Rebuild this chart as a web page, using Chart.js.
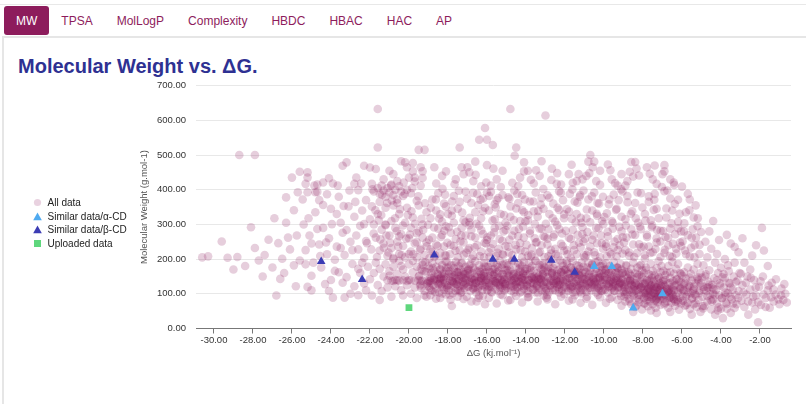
<!DOCTYPE html>
<html>
<head>
<meta charset="utf-8">
<title>Molecular Weight vs. ΔG.</title>
<script src="https://cdn.jsdelivr.net/npm/chart.js@4/dist/chart.umd.min.js"></script>
<style>
  html, body { margin: 0; padding: 0; background: #fff; }
  body { width: 806px; height: 404px; position: relative; overflow: hidden;
         font-family: "Liberation Sans", Arial, Helvetica, sans-serif; }
  .topline { position: absolute; left: 0; right: 0; top: 4px; height: 1px; background: #e8e8e8; }
  .tabs { position: absolute; left: 4px; top: 6px; display: flex; }
  .tab { height: 29px; line-height: 31.6px; padding: 0 12px; font-size: 12px; color: #8d1c5c; box-sizing: border-box; }
  .tab.active { background: #8d1c5c; color: #fff; border-radius: 3px; }
  .panel { position: absolute; left: 2px; top: 36px; width: 830px; height: 400px;
           border: 2px solid #e6e6e6; box-sizing: border-box; }
  h1 { position: absolute; left: 18px; top: 55.6px; margin: 0; font-size: 20px; line-height: 20px;
       font-weight: bold; color: #2e3192; white-space: nowrap; }
  #wrap { position: absolute; left: 0; top: 70.3px; width: 806px; height: 300px; }
  .legend { position: absolute; left: 33px; top: 196px; font-size: 10px; color: #222; }
  .legend .row { height: 13.6px; display: flex; align-items: center; white-space: nowrap; }
  .legend svg { width: 9px; height: 9px; margin-right: 5.5px; flex: none; }
</style>
</head>
<body>
<div class="topline"></div>
<div class="tabs">
  <div class="tab active">MW</div>
  <div class="tab">TPSA</div>
  <div class="tab">MolLogP</div>
  <div class="tab">Complexity</div>
  <div class="tab">HBDC</div>
  <div class="tab">HBAC</div>
  <div class="tab">HAC</div>
  <div class="tab">AP</div>
</div>
<div class="panel"></div>
<h1>Molecular Weight vs. ΔG.</h1>
<div id="wrap"><canvas id="chart"></canvas></div>
<div class="legend">
  <div class="row"><svg viewBox="0 0 9 9"><circle cx="4.5" cy="4.5" r="3.6" fill="rgb(233,210,224)"/></svg>All data</div>
  <div class="row"><svg viewBox="0 0 9 9"><polygon points="4.5,0.6 8.8,8.3 0.2,8.3" fill="#4faaf0"/></svg>Similar data/α-CD</div>
  <div class="row"><svg viewBox="0 0 9 9"><polygon points="4.5,0.6 8.8,8.3 0.2,8.3" fill="#3c3cb4"/></svg>Similar data/β-CD</div>
  <div class="row"><svg viewBox="0 0 9 9"><rect x="1" y="1" width="7" height="7" fill="#5fd77d"/></svg>Uploaded data</div>
</div>
<script>
// Axis ticks
const xTickValues = [-30, -28, -26, -24, -22, -20, -18, -16, -14, -12, -10, -8, -6, -4, -2];
const yTickValues = [0, 100, 200, 300, 400, 500, 600, 700];

// ΔG (kJ/mol) vs molecular weight (g/mol), grouped by ΔG range
const farLeftPts = [
  [-30.6,205],[-30.3,208],[-29.6,251],[-29.3,204],[-28.8,206],[-28.7,500],[-27.9,500],[-28.1,292],
  [-27.7,196],[-27.9,232],[-27.4,212],[-27.2,256],[-27.0,176],[-26.9,318],[-26.7,246],[-26.5,201],
  [-26.3,378],[-26.0,435],[-26.2,262],[-25.9,182],[-25.8,122],[-25.6,452],[-25.7,393],[-26.4,160],
  [-27.5,150],[-28.4,180],[-26.8,95],[-29.0,170]
];
const leftPts = [
  [-25.2,450],[-25.2,435],[-25.3,417],[-25.2,393],[-24.8,393],[-24.7,394],[-24.7,415],[-24.4,421],
  [-24.2,387],[-23.9,418],[-23.4,469],[-23.2,479],[-22.8,417],[-22.7,435],[-22.6,399],[-22.3,469],
  [-22.0,464],[-22.2,370],
  [-25.4,300],[-25.3,226],[-25.1,268],[-25.0,152],[-24.9,190],[-24.8,335],[-24.6,242],[-24.5,176],
  [-24.4,290],[-24.3,128],[-24.2,214],[-24.1,260],[-24.0,345],[-23.9,89],[-23.8,198],[-23.7,236],
  [-23.6,162],[-23.5,305],[-23.4,276],[-23.3,89],[-23.3,212],[-23.2,148],[-23.1,352],[-23.0,250],
  [-22.9,186],[-22.8,322],[-22.8,122],[-22.7,268],[-22.6,228],[-22.5,160],[-22.5,296],[-22.4,340],
  [-22.3,204],[-22.2,110],[-22.2,252],[-22.1,178],[-22.0,315],[-22.0,142],[-24.6,370],[-23.6,380],
  [-25.0,110],[-23.0,100],[-24.0,140],[-22.4,190],[-23.7,330],
  [-26.3,305],[-26.1,228],[-25.9,341],[-25.75,268],[-25.6,196],[-25.45,372],[-25.3,185],[-25.15,318],
  [-25.0,245],[-24.85,412],[-24.7,287],[-24.55,209],[-24.4,356],[-24.25,248],[-24.1,433],[-23.95,301],
  [-23.8,166],[-23.65,412],[-23.5,232],[-23.35,353],[-23.2,284],[-23.05,398],[-22.9,226],[-22.75,365],
  [-22.6,172],[-22.45,418],[-22.3,301],[-22.15,246],[-26.6,143],[-25.2,120],[-24.1,108],[-23.4,132],
  [-22.6,96],[-22.3,130]
];
const clusterPts = [
  [-21.9,417],[-21.8,395],[-21.6,405],[-21.5,388],[-21.4,412],[-21.3,398],[-21.2,380],[-21.1,405],
  [-21.0,392],[-20.9,415],[-20.8,385],[-20.7,400],[-20.6,372],[-20.5,410],[-20.4,395],[-20.3,382],
  [-20.6,425],[-21.3,430],[-20.1,400],[-19.9,390],
  [-21.6,522],[-21.6,633],[-20.4,482],[-20.2,479],[-19.8,477],[-20.1,465],[-19.8,453],[-19.4,465],
  [-19.3,453],[-19.5,515],[-19.2,515],[-21.0,455],[-20.8,445],[-21.7,460],[-20.0,435],[-19.7,435],
  [-19.3,434],[-19.7,424],
  [-21.9,352],[-21.8,300],[-21.7,262],[-21.6,330],[-21.5,225],[-21.4,285],[-21.3,245],[-21.2,348],
  [-21.1,210],[-21.0,268],[-20.9,310],[-20.9,232],[-20.8,355],[-20.7,290],[-20.6,250],[-20.5,215],
  [-20.5,330],[-20.4,272],[-20.3,238],[-20.2,305],[-20.2,205],[-20.1,348],[-20.0,260],[-19.9,222],
  [-19.9,290],[-19.8,320],[-19.7,245],[-19.6,205],[-19.6,275],[-19.5,355],[-19.4,230],[-19.3,300],
  [-19.3,262],[-19.2,212],[-19.1,335],[-19.1,248],[-21.5,365],[-20.6,362],[-19.6,368],[-21.2,300],
  [-20.0,215],[-19.5,280],
  [-21.1,139],[-20.9,138],[-20.7,140],[-20.5,138],[-20.3,139],[-20.1,137],[-19.9,139],[-19.7,138],
  [-19.5,140],[-19.3,138],[-19.1,139],[-18.9,137],[-20.8,137],[-20.0,140],[-19.4,137],[-20.6,139],
  [-21.9,95],[-21.8,160],[-21.7,190],[-21.6,125],[-21.5,172],[-21.4,108],[-21.3,150],[-21.2,185],
  [-21.1,118],[-21.0,165],[-20.9,92],[-20.8,178],[-20.7,122],[-20.6,158],[-20.5,195],[-20.4,110],
  [-20.3,170],[-20.2,150],[-20.1,125],[-20.0,185],[-19.9,100],[-19.8,162],[-19.7,118],[-19.6,178],
  [-19.5,150],[-19.4,128],[-19.3,192],[-19.2,108],[-19.2,165],[-19.1,92],[-19.0,180],[-19.0,122],
  [-21.5,82],[-20.3,95],[-19.6,88],[-20.8,200],[-21.0,152],[-19.8,195],[-20.4,180],[-19.4,172]
];
const core19to17 = [
  [-18.9,96],[-18.4,88],[-18.1,98],
  [-18.95,118],[-18.9,132],[-18.85,145],[-18.8,108],[-18.75,126],[-18.7,150],[-18.65,138],[-18.6,115],
  [-18.55,142],[-18.5,128],[-18.45,104],[-18.4,136],[-18.35,148],[-18.3,120],[-18.25,140],[-18.2,112],
  [-18.15,132],[-18.1,146],[-18.05,124],
  [-18.95,172],[-18.85,160],[-18.8,188],[-18.7,166],[-18.6,178],[-18.5,155],[-18.45,195],[-18.4,170],
  [-18.3,182],[-18.2,158],[-18.1,176],[-18.05,192],
  [-18.9,228],[-18.7,206],[-18.6,242],[-18.4,218],[-18.2,236],[-18.1,210],
  [-18.8,262],[-18.5,288],[-18.3,270],[-18.1,295],
  [-18.9,318],[-18.6,340],[-18.3,308],[-18.0,330],
  [-18.8,372],[-18.5,390],[-18.2,360],
  [-18.7,465],[-18.1,453],[-18.6,418],[-18.3,440],
  [-17.8,65],[-17.5,92],[-17.2,85],
  [-17.95,110],[-17.9,138],[-17.85,125],[-17.8,148],[-17.75,102],[-17.7,132],[-17.65,118],[-17.6,144],
  [-17.55,128],[-17.5,112],[-17.45,140],[-17.4,122],[-17.35,150],[-17.3,106],[-17.25,134],[-17.2,146],
  [-17.15,116],[-17.1,130],[-17.05,142],[-17.5,136],
  [-17.95,165],[-17.85,182],[-17.8,158],[-17.7,174],[-17.6,192],[-17.5,162],[-17.45,180],[-17.35,170],
  [-17.3,190],[-17.2,156],[-17.1,178],[-17.05,166],
  [-17.9,214],[-17.7,238],[-17.5,205],[-17.4,226],[-17.2,248],[-17.05,218],
  [-17.85,276],[-17.6,258],[-17.3,290],[-17.1,268],
  [-17.8,325],[-17.5,345],[-17.2,312],
  [-17.7,382],[-17.4,365],[-17.1,395],
  [-17.4,522],[-17.3,465],[-17.0,465],[-17.6,430],[-17.2,445]
];
const core17to15 = [
  [-16.8,78],[-16.4,95],[-16.1,70],
  [-16.95,120],[-16.9,135],[-16.85,108],[-16.8,146],[-16.75,126],[-16.7,114],[-16.65,140],[-16.6,130],
  [-16.55,104],[-16.5,148],[-16.45,118],[-16.4,136],[-16.35,124],[-16.3,144],[-16.25,110],[-16.2,132],
  [-16.15,150],[-16.1,120],[-16.05,140],[-16.6,118],
  [-16.95,168],[-16.85,185],[-16.75,160],[-16.7,176],[-16.6,194],[-16.5,164],[-16.4,182],[-16.3,156],
  [-16.25,172],[-16.15,188],[-16.1,162],[-16.05,178],
  [-16.9,232],[-16.7,210],[-16.5,240],[-16.3,222],[-16.15,205],[-16.05,245],
  [-16.8,284],[-16.6,262],[-16.4,296],[-16.2,272],[-16.0,255],
  [-16.9,306],[-16.6,335],[-16.3,318],[-16.1,348],
  [-16.8,362],[-16.5,388],[-16.2,375],[-16.0,392],
  [-16.6,481],[-16.4,544],[-16.0,544],[-16.1,578],[-16.0,471],[-16.7,425],[-16.3,410],[-16.9,450],
  [-15.9,88],[-15.5,72],[-15.2,96],
  [-15.95,112],[-15.9,130],[-15.85,145],[-15.8,120],[-15.75,104],[-15.7,138],[-15.65,126],[-15.6,150],
  [-15.55,114],[-15.5,132],[-15.45,144],[-15.4,108],[-15.35,124],[-15.3,140],[-15.25,118],[-15.2,134],
  [-15.15,148],[-15.1,110],[-15.05,128],[-15.6,136],
  [-15.95,178],[-15.85,162],[-15.8,190],[-15.7,170],[-15.6,158],[-15.5,184],[-15.4,166],[-15.35,196],
  [-15.25,174],[-15.2,156],[-15.1,186],[-15.05,168],
  [-15.9,220],[-15.7,244],[-15.55,208],[-15.4,230],[-15.2,215],[-15.05,238],
  [-15.8,268],[-15.6,290],[-15.35,258],[-15.15,280],
  [-15.9,340],[-15.6,315],[-15.3,330],[-15.05,305],
  [-15.8,394],[-15.5,370],[-15.2,385],[-15.6,358],
  [-15.7,529],[-15.5,430],[-15.2,455],[-15.8,412]
];
const core15to13 = [
  [-14.8,82],[-14.5,94],[-14.2,75],
  [-14.95,116],[-14.9,138],[-14.85,126],[-14.8,148],[-14.75,108],[-14.7,132],[-14.65,120],[-14.6,142],
  [-14.55,112],[-14.5,128],[-14.45,150],[-14.4,118],[-14.35,136],[-14.3,104],[-14.25,124],[-14.2,146],
  [-14.15,130],[-14.1,114],[-14.05,140],[-14.5,135],
  [-14.95,160],[-14.9,182],[-14.8,170],[-14.7,194],[-14.6,158],[-14.5,176],[-14.4,188],[-14.3,164],
  [-14.2,180],[-14.15,156],[-14.1,192],[-14.05,172],
  [-14.9,236],[-14.7,212],[-14.5,228],[-14.3,246],[-14.2,205],[-14.05,222],
  [-14.85,256],[-14.6,282],[-14.4,266],[-14.15,294],
  [-14.8,322],[-14.5,346],[-14.3,310],[-14.1,335],
  [-14.9,378],[-14.6,398],[-14.4,362],[-14.2,385],[-14.05,372],
  [-14.8,633],[-14.5,522],[-14.1,479],[-14.1,453],[-14.7,420],[-14.3,435],
  [-13.9,90],[-13.4,78],[-13.1,95],
  [-13.95,124],[-13.9,108],[-13.85,140],[-13.8,118],[-13.75,132],[-13.7,146],[-13.65,112],[-13.6,128],
  [-13.55,138],[-13.5,104],[-13.45,122],[-13.4,148],[-13.35,116],[-13.3,134],[-13.25,142],[-13.2,110],
  [-13.15,126],[-13.1,150],[-13.05,120],[-13.6,142],
  [-13.95,172],[-13.85,190],[-13.8,158],[-13.7,180],[-13.6,166],[-13.5,195],[-13.4,160],[-13.3,184],
  [-13.2,170],[-13.15,155],[-13.1,188],[-13.05,176],
  [-13.9,210],[-13.7,232],[-13.5,248],[-13.35,218],[-13.2,240],[-13.05,206],
  [-13.8,274],[-13.55,260],[-13.3,288],[-13.1,266],
  [-13.9,312],[-13.6,338],[-13.4,322],[-13.1,345],
  [-13.8,366],[-13.5,392],[-13.2,376],
  [-13.2,482],[-13.0,614],[-13.6,418],[-13.3,440],[-13.9,455]
];
const core13to11 = [
  [-12.9,84],[-12.5,70],[-12.2,92],
  [-12.95,114],[-12.9,130],[-12.85,146],[-12.8,106],[-12.75,124],[-12.7,138],[-12.65,116],[-12.6,150],
  [-12.55,128],[-12.5,110],[-12.45,142],[-12.4,120],[-12.35,134],[-12.3,104],[-12.25,126],[-12.2,144],
  [-12.15,114],[-12.1,136],[-12.05,122],[-12.6,132],
  [-12.95,164],[-12.85,178],[-12.8,192],[-12.7,160],[-12.6,174],[-12.5,186],[-12.4,156],[-12.3,170],
  [-12.25,196],[-12.2,162],[-12.1,180],[-12.05,168],
  [-12.9,242],[-12.7,216],[-12.5,230],[-12.35,208],[-12.2,244],[-12.05,224],
  [-12.85,286],[-12.6,264],[-12.4,298],[-12.15,274],
  [-12.8,330],[-12.5,308],[-12.3,342],[-12.05,318],
  [-12.9,384],[-12.6,360],[-12.3,396],[-12.1,370],
  [-12.7,428],[-12.4,448],[-12.2,415],
  [-11.8,80],[-11.5,96],[-11.2,74],
  [-11.95,118],[-11.9,134],[-11.85,108],[-11.8,146],[-11.75,126],[-11.7,114],[-11.65,140],[-11.6,120],
  [-11.55,132],[-11.5,148],[-11.45,106],[-11.4,128],[-11.35,142],[-11.3,116],[-11.25,136],[-11.2,110],
  [-11.15,124],[-11.1,144],[-11.05,130],[-11.6,104],
  [-11.95,170],[-11.9,186],[-11.8,158],[-11.7,176],[-11.6,194],[-11.5,164],[-11.4,182],[-11.3,156],
  [-11.25,172],[-11.15,190],[-11.1,160],[-11.05,178],
  [-11.9,226],[-11.7,204],[-11.55,240],[-11.4,214],[-11.2,234],[-11.05,250],
  [-11.8,262],[-11.6,284],[-11.35,270],[-11.1,292],
  [-11.9,344],[-11.65,316],[-11.4,330],[-11.15,305],
  [-11.75,388],[-11.5,366],[-11.25,380],[-11.05,398],
  [-11.8,445],[-11.3,445],[-11.6,420],[-11.1,430]
];
const core11to9 = [
  [-10.9,86],[-10.6,68],[-10.2,90],
  [-10.95,122],[-10.9,106],[-10.85,138],[-10.8,116],[-10.75,130],[-10.7,148],[-10.65,110],[-10.6,126],
  [-10.55,142],[-10.5,118],[-10.45,134],[-10.4,104],[-10.35,128],[-10.3,146],[-10.25,114],[-10.2,138],
  [-10.15,124],[-10.1,108],[-10.05,140],[-10.5,132],
  [-10.95,162],[-10.85,176],[-10.8,190],[-10.7,166],[-10.6,184],[-10.5,156],[-10.4,172],[-10.3,194],
  [-10.25,160],[-10.2,180],[-10.1,168],[-10.05,186],
  [-10.9,212],[-10.7,236],[-10.5,220],[-10.35,246],[-10.2,206],[-10.05,230],
  [-10.85,278],[-10.6,256],[-10.4,290],[-10.15,268],
  [-10.9,318],[-10.6,340],[-10.35,325],[-10.1,310],
  [-10.8,372],[-10.5,392],[-10.25,360],[-10.05,380],
  [-10.7,500],[-10.8,481],[-10.5,481],[-10.4,425],[-10.9,440],[-10.2,455],
  [-9.9,74],[-9.6,90],[-9.3,82],[-9.1,66],
  [-9.95,112],[-9.9,128],[-9.85,144],[-9.8,104],[-9.75,120],[-9.7,136],[-9.65,150],[-9.6,114],
  [-9.55,130],[-9.5,142],[-9.45,108],[-9.4,124],[-9.35,138],[-9.3,118],[-9.25,146],[-9.2,102],
  [-9.15,132],[-9.1,116],[-9.05,140],[-9.5,122],
  [-9.95,170],[-9.9,188],[-9.8,158],[-9.7,180],[-9.6,166],[-9.5,192],[-9.4,162],[-9.3,176],
  [-9.2,154],[-9.15,186],[-9.1,170],[-9.05,160],
  [-9.9,244],[-9.7,220],[-9.5,234],[-9.35,208],[-9.2,240],[-9.05,216],
  [-9.8,266],[-9.55,288],[-9.3,258],[-9.1,280],
  [-9.85,332],[-9.6,310],[-9.35,345],[-9.1,322],
  [-9.75,358],[-9.5,386],[-9.25,370],[-9.05,395],
  [-9.8,473],[-9.1,445],[-9.6,430],[-9.3,412]
];
const right9to7 = [
  [-8.95,92],[-8.9,78],[-8.8,98],[-8.7,85],[-8.6,70],[-8.5,94],[-8.4,62],[-8.3,88],[-8.2,76],
  [-8.1,96],[-8.05,55],[-8.5,48],
  [-8.95,118],[-8.9,134],[-8.85,106],[-8.8,146],[-8.75,124],[-8.7,112],[-8.65,138],[-8.6,128],
  [-8.55,104],[-8.5,142],[-8.45,120],[-8.4,132],[-8.35,110],[-8.3,148],[-8.2,126],[-8.15,114],
  [-8.1,136],[-8.05,122],
  [-8.95,164],[-8.85,180],[-8.7,158],[-8.6,172],[-8.5,190],[-8.4,160],[-8.3,176],[-8.2,154],
  [-8.1,184],[-8.05,168],
  [-8.9,226],[-8.7,210],[-8.5,242],[-8.3,218],[-8.1,234],
  [-8.85,262],[-8.6,286],[-8.4,270],[-8.15,294],
  [-8.9,315],[-8.55,338],[-8.25,305],
  [-8.8,382],[-8.4,362],[-8.1,390],
  [-8.6,480],[-8.4,480],[-8.5,438],[-8.2,441],[-8.8,425],
  [-7.95,88],[-7.9,72],[-7.85,96],[-7.8,82],[-7.75,64],[-7.7,92],[-7.65,78],[-7.6,98],[-7.55,86],
  [-7.5,70],[-7.45,94],[-7.4,80],[-7.35,60],[-7.3,90],[-7.25,76],[-7.2,98],[-7.15,84],[-7.1,68],
  [-7.05,92],[-7.6,52],[-7.3,45],
  [-7.95,112],[-7.9,128],[-7.85,104],[-7.8,140],[-7.75,118],[-7.7,132],[-7.65,108],[-7.6,124],
  [-7.55,146],[-7.5,114],[-7.45,136],[-7.4,102],[-7.35,126],[-7.3,118],[-7.25,142],[-7.2,110],
  [-7.15,130],[-7.1,106],[-7.05,122],[-7.7,116],[-7.4,112],
  [-7.95,160],[-7.85,176],[-7.7,156],[-7.6,186],[-7.5,166],[-7.4,152],[-7.3,174],[-7.2,194],
  [-7.1,162],[-7.05,180],
  [-7.9,212],[-7.7,236],[-7.5,220],[-7.3,248],[-7.1,206],
  [-7.8,270],[-7.55,292],[-7.3,260],[-7.1,282],
  [-7.9,330],[-7.6,312],[-7.3,345],
  [-7.7,365],[-7.4,388],
  [-7.8,465],[-7.4,470],[-7.3,417],[-7.5,430]
];
const right7to5 = [
  [-6.95,86],[-6.9,70],[-6.8,94],[-6.75,78],[-6.7,60],[-6.6,90],[-6.55,74],[-6.5,98],[-6.4,84],
  [-6.35,66],[-6.3,92],[-6.2,76],[-6.15,54],[-6.1,88],[-6.05,72],[-6.6,48],
  [-6.95,108],[-6.9,124],[-6.85,140],[-6.8,114],[-6.7,130],[-6.65,104],[-6.6,146],[-6.5,120],
  [-6.45,136],[-6.4,110],[-6.3,126],[-6.25,142],[-6.2,104],[-6.1,118],[-6.05,134],[-6.5,112],
  [-6.95,166],[-6.85,154],[-6.7,180],[-6.6,162],[-6.5,192],[-6.4,158],[-6.3,172],[-6.2,186],[-6.1,160],
  [-6.9,218],[-6.7,240],[-6.5,206],[-6.3,230],[-6.1,248],
  [-6.85,264],[-6.6,288],[-6.35,272],[-6.05,280],
  [-6.8,320],[-6.5,340],[-6.2,308],
  [-6.9,396],[-6.6,375],[-6.2,371],
  [-6.9,471],[-6.9,453],[-7.0,445],[-6.4,414],[-6.6,430],
  [-5.95,80],[-5.85,66],[-5.8,92],[-5.7,74],[-5.6,56],[-5.5,86],[-5.4,70],[-5.3,96],[-5.25,62],
  [-5.15,82],[-5.05,48],[-5.5,40],
  [-5.95,112],[-5.9,128],[-5.8,144],[-5.7,106],[-5.6,122],[-5.5,138],[-5.4,114],[-5.3,130],
  [-5.2,148],[-5.1,108],[-5.05,124],
  [-5.9,162],[-5.7,176],[-5.55,158],[-5.4,170],[-5.2,186],[-5.05,160],
  [-5.85,225],[-5.6,208],[-5.35,240],[-5.1,215],
  [-5.9,280],[-5.5,262],[-5.2,295],
  [-6.0,409],[-5.7,388],[-5.8,335],[-5.4,320],[-5.3,355]
];
// second pass over the 200–470 g/mol zone
const upperFill = [
  [-21.93,228],[-21.81,274],[-21.72,341],[-21.64,206],[-21.55,312],[-21.47,257],[-21.38,386],[-21.29,233],
  [-21.2,298],[-21.12,362],[-21.05,219],[-21.87,401],[-21.42,327],[-21.16,268],
  [-20.96,247],[-20.88,369],[-20.79,203],[-20.71,318],[-20.63,281],[-20.55,236],[-20.46,344],[-20.38,212],
  [-20.31,297],[-20.22,388],[-20.14,259],[-20.06,327],[-20.92,412],[-20.5,266],[-20.27,421],
  [-19.95,271],[-19.87,338],[-19.78,214],[-19.69,302],[-19.61,249],[-19.52,381],[-19.44,226],[-19.36,316],
  [-19.27,284],[-19.18,361],[-19.09,237],[-19.02,299],[-19.83,405],[-19.4,412],
  [-18.97,256],[-18.88,348],[-18.79,221],[-18.71,291],[-18.62,372],[-18.53,238],[-18.45,317],[-18.36,264],
  [-18.28,403],[-18.19,282],[-18.11,352],[-18.03,247],[-18.66,211],[-18.4,329],[-18.15,386],
  [-17.96,292],[-17.87,241],[-17.79,366],[-17.7,305],[-17.61,224],[-17.53,279],[-17.44,397],[-17.36,251],
  [-17.27,334],[-17.19,213],[-17.1,306],[-17.02,374],[-17.66,416],[-17.32,268],[-17.8,340],
  [-16.97,227],[-16.88,319],[-16.8,266],[-16.71,391],[-16.63,234],[-16.54,302],[-16.46,356],[-16.37,209],
  [-16.29,283],[-16.2,338],[-16.12,247],[-16.04,421],[-16.58,443],[-16.33,371],[-16.9,298],
  [-15.98,263],[-15.89,382],[-15.8,231],[-15.72,311],[-15.63,277],[-15.55,349],[-15.46,218],[-15.38,296],
  [-15.29,408],[-15.21,253],[-15.12,327],[-15.04,284],[-15.67,461],[-15.42,376],[-15.16,212],
  [-14.96,296],[-14.88,219],[-14.79,352],[-14.7,268],[-14.62,313],[-14.53,241],[-14.45,388],[-14.36,287],
  [-14.28,226],[-14.19,341],[-14.11,262],[-14.03,309],[-14.58,498],[-14.4,411],[-14.85,374],
  [-13.97,241],[-13.88,327],[-13.79,282],[-13.71,213],[-13.62,366],[-13.54,301],[-13.45,249],[-13.37,339],
  [-13.28,221],[-13.2,288],[-13.11,402],[-13.03,264],[-13.75,429],[-13.48,456],[-13.24,357],
  [-12.98,302],[-12.89,259],[-12.8,377],[-12.72,227],[-12.63,318],[-12.55,271],[-12.46,214],[-12.38,348],
  [-12.29,286],[-12.21,391],[-12.12,238],[-12.04,329],[-12.67,461],[-12.42,417],[-12.85,208],
  [-11.96,282],[-11.87,214],[-11.79,337],[-11.7,258],[-11.62,401],[-11.53,226],[-11.45,306],[-11.36,363],
  [-11.28,247],[-11.19,319],[-11.11,272],[-11.03,211],[-11.66,472],[-11.4,425],[-11.22,385],
  [-10.97,259],[-10.88,343],[-10.8,222],[-10.71,306],[-10.62,381],[-10.54,268],[-10.45,211],[-10.37,331],
  [-10.28,289],[-10.2,414],[-10.11,246],[-10.03,301],[-10.75,448],[-10.58,465],[-10.33,362],
  [-9.98,321],[-9.89,236],[-9.81,279],[-9.72,372],[-9.63,214],[-9.55,305],[-9.46,251],[-9.38,342],
  [-9.29,226],[-9.21,293],[-9.12,401],[-9.04,263],[-9.67,456],[-9.43,419],[-9.86,208],
  [-8.97,248],[-8.88,297],[-8.79,364],[-8.71,219],[-8.62,331],[-8.54,271],[-8.45,206],[-8.37,318],
  [-8.28,392],[-8.2,243],[-8.11,286],[-8.03,349],[-8.68,452],[-8.33,461],[-8.9,412],
  [-7.96,236],[-7.87,311],[-7.79,264],[-7.7,381],[-7.62,218],[-7.53,297],[-7.45,342],[-7.36,229],
  [-7.28,284],[-7.19,318],[-7.11,251],[-7.03,408],[-7.65,446],[-7.42,371],[-7.9,202],
  [-6.97,281],[-6.88,227],[-6.8,346],[-6.71,262],[-6.63,209],[-6.54,303],[-6.46,244],[-6.37,359],
  [-6.29,216],[-6.2,289],[-6.12,331],[-6.04,238],[-6.75,398],[-6.42,421],
  [-5.97,251],[-5.88,303],[-5.79,214],[-5.7,269],[-5.62,341],[-5.53,233],[-5.45,286],[-5.36,205],
  [-5.28,262],[-5.19,318],[-5.1,241],[-5.02,278],[-5.6,372]
];
// second pass over the dense 60–210 g/mol band
const bandFill = [
  [-19.47,152],[-19.38,117],[-19.3,184],[-19.21,96],[-19.12,163],[-19.04,131],[-18.95,203],[-18.87,111],
  [-18.78,174],[-18.7,142],[-18.61,86],[-18.53,157],[-19.43,124],[-19.16,191],[-18.91,147],[-18.66,105],
  [-19.34,168],[-18.99,136],[-18.74,139],[-19.08,129],
  [-18.47,128],[-18.38,171],[-18.3,101],[-18.21,149],[-18.12,193],[-18.04,119],[-17.95,158],[-17.87,83],
  [-17.78,137],[-17.7,182],[-17.61,108],[-17.53,162],[-18.43,144],[-18.16,211],[-17.91,97],[-17.66,153],
  [-18.34,126],[-17.99,176],[-17.74,133],[-18.08,118],
  [-17.47,142],[-17.38,109],[-17.3,187],[-17.21,124],[-17.12,156],[-17.04,92],[-16.95,171],[-16.87,135],
  [-16.78,201],[-16.7,116],[-16.61,149],[-16.53,78],[-17.43,164],[-17.16,127],[-16.91,181],[-16.66,140],
  [-17.34,103],[-16.99,159],[-16.74,132],[-17.08,146],
  [-16.47,113],[-16.38,166],[-16.3,138],[-16.21,94],[-16.12,179],[-16.04,125],[-15.95,151],[-15.87,207],
  [-15.78,106],[-15.7,143],[-15.61,172],[-15.53,131],[-16.43,88],[-16.16,158],[-15.91,121],[-15.66,189],
  [-16.34,147],[-15.99,110],[-15.74,163],[-16.08,135],
  [-15.47,161],[-15.38,127],[-15.3,98],[-15.21,184],[-15.12,141],[-15.04,115],[-14.95,169],[-14.87,152],
  [-14.78,122],[-14.7,197],[-14.61,104],[-14.53,146],[-15.43,177],[-15.16,133],[-14.91,81],[-14.66,157],
  [-15.34,118],[-14.99,187],[-14.74,140],[-15.08,128],
  [-14.47,119],[-14.38,154],[-14.3,183],[-14.21,107],[-14.12,139],[-14.04,166],[-13.95,128],[-13.87,91],
  [-13.78,175],[-13.7,148],[-13.61,113],[-13.53,195],[-14.43,136],[-14.16,160],[-13.91,101],[-13.66,144],
  [-14.34,172],[-13.99,124],[-13.74,208],[-14.08,151],
  [-13.47,145],[-13.38,103],[-13.3,176],[-13.21,131],[-13.12,158],[-13.04,117],[-12.95,89],[-12.87,168],
  [-12.78,137],[-12.7,199],[-12.61,111],[-12.53,152],[-13.43,125],[-13.16,183],[-12.91,96],[-12.66,161],
  [-13.34,142],[-12.99,107],[-12.74,173],[-13.08,134],
  [-12.47,132],[-12.38,167],[-12.3,114],[-12.21,149],[-12.12,188],[-12.04,99],[-11.95,141],[-11.87,162],
  [-11.78,123],[-11.7,176],[-11.61,84],[-11.53,155],[-12.43,138],[-12.16,109],[-11.91,194],[-11.66,146],
  [-12.34,127],[-11.99,170],[-11.74,117],[-12.08,156],
  [-11.47,157],[-11.38,121],[-11.3,180],[-11.21,106],[-11.12,143],[-11.04,168],[-10.95,129],[-10.87,92],
  [-10.78,153],[-10.7,117],[-10.61,186],[-10.53,139],[-11.43,162],[-11.16,101],[-10.91,147],[-10.66,175],
  [-11.34,124],[-10.99,205],[-10.74,134],[-11.08,112],
  [-10.47,126],[-10.38,161],[-10.3,97],[-10.21,148],[-10.12,179],[-10.04,113],[-9.95,139],[-9.87,171],
  [-9.78,122],[-9.7,86],[-9.61,155],[-9.53,134],[-10.43,191],[-10.16,108],[-9.91,166],[-9.66,144],
  [-10.34,118],[-9.99,159],[-9.74,129],[-10.08,150],
  [-9.47,109],[-9.38,146],[-9.3,174],[-9.21,128],[-9.12,93],[-9.04,159],[-8.95,121],[-8.87,183],
  [-8.78,137],[-8.7,78],[-8.61,152],[-8.53,114],[-9.43,168],[-9.16,131],[-8.91,99],[-8.66,141],
  [-9.34,176],[-8.99,106],[-8.74,162],[-9.08,126],
  [-8.47,98],[-8.38,131],[-8.3,157],[-8.21,84],[-8.12,119],[-8.04,146],[-7.95,72],[-7.87,168],
  [-7.78,108],[-7.7,137],[-7.61,92],[-7.53,154],[-8.43,123],[-8.16,181],[-7.91,101],[-7.66,141],
  [-8.34,66],[-7.99,129],[-7.74,114],[-8.08,149],
  [-7.47,103],[-7.38,128],[-7.3,86],[-7.21,149],[-7.12,117],[-7.04,94],[-6.95,139],[-6.87,74],
  [-6.78,161],[-6.7,109],[-6.61,132],[-6.53,88],[-7.43,121],[-7.16,146],[-6.91,97],[-6.66,113],
  [-7.34,82],[-6.99,136],[-6.74,106],[-7.08,124],
  [-6.47,96],[-6.38,124],[-6.3,141],[-6.21,81],[-6.12,112],[-6.04,157],[-5.95,93],[-5.87,131],
  [-5.78,68],[-5.7,118],[-5.61,147],[-5.53,102],[-6.43,86],[-6.16,136],[-5.91,109],[-5.66,124],
  [-6.34,77],[-5.99,152],[-5.74,98],[-6.08,115],
  [-5.47,88],[-5.38,121],[-5.3,73],[-5.21,143],[-5.12,102],[-5.04,131],[-4.95,64],[-4.87,112],
  [-4.78,156],[-4.7,94],[-4.61,127],[-4.53,82],[-5.43,109],[-5.16,139],[-4.91,58],[-4.66,118],
  [-5.34,99],[-4.99,147],
  [-4.47,78],[-4.38,114],[-4.3,96],[-4.21,139],[-4.12,61],[-4.04,124],[-3.95,87],[-3.87,157],
  [-3.78,104],[-3.7,71],[-3.61,132],[-3.53,92],[-4.43,118],[-4.16,52]
];
// darkest part of the band, 90–170 g/mol
const coreStreak = [
  [-18.42,131],[-18.31,158],[-18.2,142],[-18.09,167],[-17.98,124],[-17.87,149],[-17.76,136],[-17.65,161],[-17.56,128],[-18.36,145],
  [-17.43,152],[-17.32,127],[-17.21,163],[-17.1,139],[-16.99,121],[-16.88,156],[-16.77,143],[-16.66,170],[-16.57,132],[-17.26,147],
  [-16.44,138],[-16.33,162],[-16.22,125],[-16.11,150],[-16.0,141],[-15.89,167],[-15.78,129],[-15.67,154],[-15.58,136],[-16.27,146],
  [-15.41,149],[-15.3,131],[-15.19,158],[-15.08,122],[-14.97,144],[-14.86,165],[-14.75,137],[-14.64,152],[-14.55,126],[-15.24,141],
  [-14.43,160],[-14.32,134],[-14.21,147],[-14.1,123],[-13.99,156],[-13.88,139],[-13.77,168],[-13.66,131],[-13.57,150],[-14.26,143],
  [-13.44,128],[-13.33,153],[-13.22,141],[-13.11,166],[-13.0,135],[-12.89,148],[-12.78,124],[-12.67,159],[-12.58,137],[-13.27,145],
  [-12.42,151],[-12.31,126],[-12.2,163],[-12.09,140],[-11.98,132],[-11.87,157],[-11.76,145],[-11.65,121],[-11.56,168],[-12.25,138],
  [-11.43,136],[-11.32,161],[-11.21,129],[-11.1,149],[-10.99,142],[-10.88,125],[-10.77,158],[-10.66,134],[-10.57,147],[-11.26,153],
  [-10.41,144],[-10.3,122],[-10.19,157],[-10.08,133],[-9.97,149],[-9.86,127],[-9.75,162],[-9.64,139],[-9.55,118],[-10.24,146],
  [-9.44,131],[-9.33,152],[-9.22,119],[-9.11,143],[-9.0,128],[-8.89,156],[-8.78,114],[-8.67,137],[-8.58,125],[-9.27,140],
  [-8.43,108],[-8.32,126],[-8.21,97],[-8.1,118],[-7.99,104],[-7.88,131],[-7.77,92],[-7.66,115],[-7.57,123],[-8.26,112],
  [-7.42,101],[-7.31,119],[-7.2,93],[-7.09,112],[-6.98,127],[-6.87,99],[-6.76,116],[-6.65,88],[-6.56,108],[-7.25,106]
];
const tail5to3 = [
  [-4.95,92],[-4.9,120],[-4.85,65],[-4.8,150],[-4.75,108],[-4.7,78],[-4.65,135],[-4.6,168],
  [-4.55,98],[-4.5,55],[-4.45,126],[-4.4,84],[-4.35,145],[-4.3,40],[-4.25,112],[-4.2,72],
  [-4.15,160],[-4.1,96],[-4.05,130],[-4.9,182],[-4.7,205],[-4.5,230],[-4.3,190],[-4.1,255],
  [-4.6,280],[-4.8,250],[-4.4,310],[-4.2,215],[-4.7,118],[-4.4,100],[-4.0,57],[-4.0,175],
  [-3.9,30],[-3.7,57],[-3.3,59],[-3.5,45],[-3.95,88],[-3.85,118],[-3.8,145],[-3.75,74],
  [-3.65,102],[-3.6,165],[-3.55,130],[-3.45,84],[-3.4,112],[-3.35,150],[-3.25,96],[-3.2,70],
  [-3.15,138],[-3.1,108],[-3.05,160],[-3.8,200],[-3.5,245],[-3.3,190],[-3.7,270],[-3.1,220]
];
const tail3to0 = [
  [-2.95,80],[-2.9,125],[-2.8,62],[-2.7,98],[-2.65,150],[-2.6,40],[-2.5,112],[-2.4,75],
  [-2.3,140],[-2.25,55],[-2.2,95],[-2.1,18],[-2.05,120],[-1.95,68],[-1.9,290],[-1.85,150],
  [-1.7,88],[-1.6,110],[-1.5,60],[-1.4,132],[-1.3,78],[-1.2,98],[-1.0,70],[-0.9,115],
  [-0.8,82],[-0.7,100],[-2.8,190],[-2.4,210],[-1.6,180],[-2.5,170],
  [-3.92,148],[-3.77,96],[-3.64,182],[-3.51,118],[-3.38,72],[-3.24,134],[-3.12,88],[-2.98,158],
  [-2.85,104],[-2.72,132],[-2.61,78],[-2.47,146],[-2.35,92],[-2.22,118],[-2.09,76],[-1.97,136],
  [-1.82,98],[-1.71,62],[-1.56,124],[-1.43,90],[-1.31,112],[-1.18,142],[-1.05,84],[-0.92,96],
  [-0.75,128],[-0.62,75],[-3.3,235],[-2.9,260],[-2.2,240],[-1.8,225]
];

// Highlighted compounds
const similarAlpha = [[-10.5,179],[-9.6,179],[-8.5,59],[-7.0,100]];
const similarBeta = [[-24.5,193],[-22.4,141],[-18.7,212],[-15.7,200],[-14.6,200],[-12.7,197],[-11.5,162]];
const uploaded = [[-20.0,60]];

const toXY = arr => arr.map(([x, y]) => ({ x, y }));
const allData = [].concat(farLeftPts, leftPts, clusterPts, core19to17, core17to15, core15to13,
  core13to11, core11to9, right9to7, right7to5, upperFill, bandFill, coreStreak, tail5to3, tail3to0);

const font = { family: '"Liberation Sans", Arial, Helvetica, sans-serif', size: 9.5 };

new Chart(document.getElementById('chart'), {
  type: 'scatter',
  data: {
    datasets: [
      { label: 'Uploaded data', data: toXY(uploaded), pointStyle: 'rect', pointRadius: 4.8,
        backgroundColor: '#5fd77d', borderWidth: 0, order: 0 },
      { label: 'Similar data/β-CD', data: toXY(similarBeta), pointStyle: 'triangle', pointRadius: 5,
        backgroundColor: '#3c3cb4', borderWidth: 0, order: 1 },
      { label: 'Similar data/α-CD', data: toXY(similarAlpha), pointStyle: 'triangle', pointRadius: 5,
        backgroundColor: '#4faaf0', borderWidth: 0, order: 2 },
      { label: 'All data', data: toXY(allData), pointStyle: 'circle', pointRadius: 4.3,
        backgroundColor: 'rgba(140,30,95,0.22)', borderWidth: 0, order: 3 }
    ]
  },
  options: {
    responsive: true,
    maintainAspectRatio: false,
    animation: false,
    layout: { padding: { left: 135, right: 15, top: 9.3, bottom: 10.7 } },
    plugins: { legend: { display: false }, tooltip: { enabled: false } },
    scales: {
      x: {
        type: 'linear',
        min: -30.92,
        max: -0.41,
        afterBuildTicks: s => { s.ticks = xTickValues.map(v => ({ value: v })); },
        ticks: { callback: v => Number(v).toFixed(2), font, color: '#333', padding: 1,
                 maxRotation: 0, autoSkip: false },
        grid: { drawOnChartArea: false, drawTicks: true, tickLength: 5, color: '#777', tickColor: '#777' },
        border: { display: true, color: '#777' },
        title: { display: true, text: 'ΔG (kj.mol⁻¹)', color: '#555', font, padding: { top: 1, bottom: 0 } }
      },
      y: {
        type: 'linear',
        min: 0,
        max: 700,
        afterBuildTicks: s => { s.ticks = yTickValues.map(v => ({ value: v })); },
        afterFit: s => { s.width = 61; },
        ticks: { callback: v => Number(v).toFixed(2), font, color: '#333', padding: 10 },
        grid: { color: '#e8e8e8', drawTicks: false },
        border: { display: false },
        title: { display: true, text: 'Molecular Weight (g.mol-1)', color: '#555', font, padding: { top: 4, bottom: 4 } }
      }
    }
  }
});
</script>
</body>
</html>
